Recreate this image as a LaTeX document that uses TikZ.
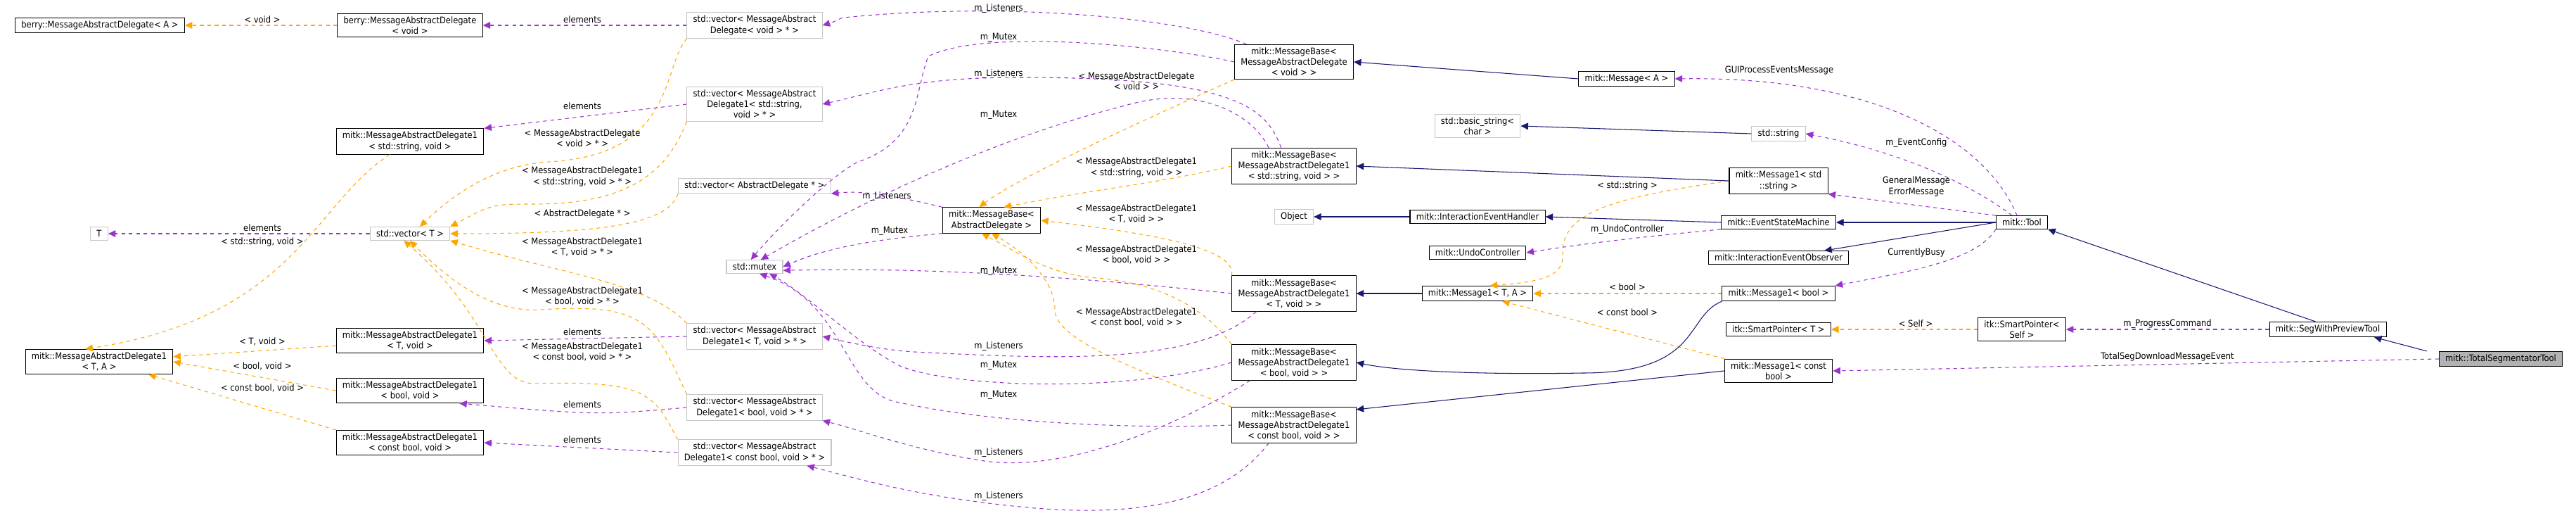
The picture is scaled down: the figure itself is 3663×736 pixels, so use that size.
\documentclass[tikz,border=0pt]{standalone}
\usepackage{fontspec}
\setmainfont{DejaVu Sans Condensed}
\usetikzlibrary{arrows.meta}
\definecolor{inhc}{HTML}{191970}
\definecolor{usec}{HTML}{9A32CD}
\definecolor{tplc}{HTML}{FFA500}
\begin{document}
\begin{tikzpicture}[x=0.02cm,y=-0.02cm,
  every node/.style={font=\fontsize{7.3}{8.6}\selectfont},
  box/.style={draw=black,fill=white,align=center,inner xsep=5pt,inner ysep=2.5pt,line width=0.6pt},
  gbox/.style={box,draw=gray!45},
  lbl/.style={align=center,inner sep=1pt,text=black},
  arr/.style={-{Triangle[length=6pt,width=5.5pt]},line width=0.6pt},
  inh/.style={arr,draw=inhc},
  use/.style={arr,draw=usec,dash pattern=on 3pt off 3pt},
  tpl/.style={arr,draw=tplc,dash pattern=on 3pt off 3pt}]
\useasboundingbox (0,0) rectangle (3663,736);
% nodes
\node[box] (bA) at (142,36) {berry::MessageAbstractDelegate< A >};
\node[box] (bV) at (583,36) {berry::MessageAbstractDelegate\\< void >};
\node[gbox] (vV) at (1073,36) {std::vector< MessageAbstract\\Delegate< void > * >};
\node[gbox] (vS) at (1073,148) {std::vector< MessageAbstract\\Delegate1< std::string,\\ void > * >};
\node[box] (dS) at (583,201) {mitk::MessageAbstractDelegate1\\< std::string, void >};
\node[gbox] (vAD) at (1073,264) {std::vector< AbstractDelegate * >};
\node[gbox] (T) at (141,332) {T};
\node[gbox] (vT) at (583,332) {std::vector< T >};
\node[gbox] (mutex) at (1073,379) {std::mutex};
\node[box] (dTA) at (141,514) {mitk::MessageAbstractDelegate1\\< T, A >};
\node[gbox] (vTv) at (1073,478) {std::vector< MessageAbstract\\Delegate1< T, void > * >};
\node[box] (dT) at (583,484) {mitk::MessageAbstractDelegate1\\< T, void >};
\node[box] (dB) at (583,555) {mitk::MessageAbstractDelegate1\\< bool, void >};
\node[gbox] (vB) at (1073,579) {std::vector< MessageAbstract\\Delegate1< bool, void > * >};
\node[box] (dC) at (583,629) {mitk::MessageAbstractDelegate1\\< const bool, void >};
\node[gbox] (vC) at (1073,643) {std::vector< MessageAbstract\\Delegate1< const bool, void > * >};
\node[box] (mbV) at (1840,88) {mitk::MessageBase<\\ MessageAbstractDelegate\\< void > >};
\node[box] (msgA) at (2313,112) {mitk::Message< A >};
\node[gbox] (bstr) at (2101,179) {std::basic\_string<\\ char >};
\node[box] (mbS) at (1840,236) {mitk::MessageBase<\\ MessageAbstractDelegate1\\< std::string, void > >};
\node[box] (mbAD) at (1410,313) {mitk::MessageBase<\\ AbstractDelegate >};
\node[gbox] (obj) at (1840,308) {Object};
\node[box] (ieh) at (2101,308) {mitk::InteractionEventHandler};
\node[box] (undo) at (2101,359) {mitk::UndoController};
\node[box] (mbT) at (1840,417) {mitk::MessageBase<\\ MessageAbstractDelegate1\\< T, void > >};
\node[box] (m1TA) at (2101,417) {mitk::Message1< T, A >};
\node[box] (mbB) at (1840,515) {mitk::MessageBase<\\ MessageAbstractDelegate1\\< bool, void > >};
\node[box] (mbC) at (1840,604) {mitk::MessageBase<\\ MessageAbstractDelegate1\\< const bool, void > >};
\node[gbox] (str) at (2529,190) {std::string};
\node[box] (m1S) at (2529,257) {mitk::Message1< std\\::string >};
\node[box] (esm) at (2529,316) {mitk::EventStateMachine};
\node[box] (ieo) at (2529,366) {mitk::InteractionEventObserver};
\node[box] (m1B) at (2529,417) {mitk::Message1< bool >};
\node[box] (spT) at (2529,468) {itk::SmartPointer< T >};
\node[box] (m1C) at (2529,527) {mitk::Message1< const\\ bool >};
\node[box] (spS) at (2875,468) {itk::SmartPointer<\\ Self >};
\node[box] (tool) at (2875,316) {mitk::Tool};
\node[box] (swp) at (3310,468) {mitk::SegWithPreviewTool};
\node[box,fill=gray!60] (tst) at (3556,510) {mitk::TotalSegmentatorTool};
% template edges
\draw[tpl] (bV) -- (bA) node[lbl] at (373,28) {< void >};
\draw[tpl] (dS) .. controls (445,290) and (420,450) .. ([xshift=-2.5cm]dTA.north east);
\node[lbl] at (373,344) {< std::string, void >};
\draw[tpl] (dT) -- (dTA) node[lbl] at (373,485) {< T, void >};
\draw[tpl] (dB.west) -- (dTA.east) node[lbl] at (373,520) {< bool, void >};
\draw[tpl] (dC.north west) -- ([xshift=-20pt]dTA.south east) node[lbl] at (373,551) {< const bool, void >};
\draw[tpl] (vV.south west) .. controls (940,100) and (960,220) .. (780,230) .. controls (700,235) and (640,280) .. ([xshift=8pt]vT.north);
\node[lbl] at (828,196) {< MessageAbstractDelegate\\< void > * >};
\draw[tpl] (vS.south west) .. controls (950,240) and (900,290) .. (760,290) .. controls (700,290) .. (vT.north east);
\node[lbl] at (828,251) {< MessageAbstractDelegate1\\< std::string, void > * >};
\draw[tpl] (vAD.south west) .. controls (950,320) and (850,332) .. (vT.east);
\node[lbl] at (828,304) {< AbstractDelegate * >};
\draw[tpl] (vTv.north west) .. controls (920,400) and (800,390) .. (vT.south east);
\node[lbl] at (828,351) {< MessageAbstractDelegate1\\< T, void > * >};
\draw[tpl] (vB.north west) .. controls (930,460) and (920,430) .. (770,440) .. controls (700,445) and (640,400) .. (vT.south);
\node[lbl] at (828,421) {< MessageAbstractDelegate1\\< bool, void > * >};
\draw[tpl] (vC.north west) .. controls (930,560) and (920,540) .. (760,545) .. controls (700,545) and (700,450) .. ([xshift=-5pt]vT.south);
\node[lbl] at (828,500) {< MessageAbstractDelegate1\\< const bool, void > * >};
\draw[tpl] (mbV.south west) .. controls (1650,160) and (1450,250) .. ([xshift=-10pt]mbAD.north);
\node[lbl] at (1616,115) {< MessageAbstractDelegate\\< void > >};
\draw[tpl] (mbS.west) .. controls (1650,260) and (1550,270) .. ([xshift=10pt]mbAD.north);
\node[lbl] at (1616,238) {< MessageAbstractDelegate1\\< std::string, void > >};
\draw[tpl] (mbT.north west) .. controls (1760,350) and (1620,330) .. (mbAD.east);
\node[lbl] at (1616,304) {< MessageAbstractDelegate1\\< T, void > >};
\draw[tpl] (mbB.north west) .. controls (1700,420) and (1620,400) .. (1560,395) .. controls (1490,390) and (1450,360) .. ([xshift=-8pt]mbAD.south);
\node[lbl] at (1616,362) {< MessageAbstractDelegate1\\< bool, void > >};
\draw[tpl] (mbC.north west) .. controls (1600,520) and (1500,480) .. (1500,440) .. controls (1500,400) and (1460,360) .. (mbAD.south);
\node[lbl] at (1616,451) {< MessageAbstractDelegate1\\< const bool, void > >};
\draw[tpl] (m1S.west) .. controls (2300,280) and (2220,300) .. (2222,360) .. controls (2224,390) and (2200,400) .. ([xshift=10pt]m1TA.north);
\node[lbl] at (2314,264) {< std::string >};
\draw[tpl] (m1B) -- (m1TA) node[lbl] at (2314,408) {< bool >};
\draw[tpl] (m1C.north west) -- ([xshift=20pt]m1TA.south) node[lbl] at (2314,444) {< const bool >};
\draw[tpl] (spS) -- (spT) node[lbl] at (2724,460) {< Self >};
% usage edges
\draw[use] (vV) -- (bV) node[lbl] at (828,28) {elements};
\draw[use] (vS.west) -- (dS.north east) node[lbl] at (828,151) {elements};
\draw[use] (vT) -- (T) node[lbl] at (373,324) {elements};
\draw[use] (vTv.west) -- (dT.east) node[lbl] at (828,472) {elements};
\draw[use] (vB.west) .. controls (850,590) .. ([xshift=-20pt]dB.south east);
\node[lbl] at (828,575) {elements};
\draw[use] (vC.west) -- (dC.east) node[lbl] at (828,625) {elements};
\draw[use] (mbAD.north west) .. controls (1280,280) and (1230,270) .. (vAD.south east);
\node[lbl] at (1261,279) {m\_Listeners};
\draw[use] (mbAD.south west) .. controls (1250,340) and (1180,350) .. (mutex.east);
\node[lbl] at (1265,328) {m\_Mutex};
\draw[use] ([xshift=10pt]mbV.north west) .. controls (1700,30) and (1450,0) .. (1200,25) .. controls (1195,25) and (1190,30) .. (vV.east);
\node[lbl] at (1420,12) {m\_Listeners};
\draw[use] (mbV.west) .. controls (1650,65) and (1400,40) .. (1320,80) .. controls (1300,130) and (1310,200) .. (1220,230) .. controls (1180,250) and (1100,330) .. ([xshift=-3pt]mutex.north);
\node[lbl] at (1420,53) {m\_Mutex};
\draw[use] ([xshift=40pt]mbS.north west) .. controls (1800,150) and (1750,110) .. (1450,110) .. controls (1300,110) and (1250,130) .. (vS.east);
\node[lbl] at (1420,105) {m\_Listeners};
\draw[use] ([xshift=30pt]mbS.north west) .. controls (1780,160) and (1700,120) .. (1600,150) .. controls (1400,200) and (1200,300) .. ([xshift=5pt]mutex.north);
\node[lbl] at (1420,163) {m\_Mutex};
\draw[use] (mbT.west) .. controls (1500,390) and (1300,380) .. ([yshift=-3pt]mutex.east);
\node[lbl] at (1420,385) {m\_Mutex};
\draw[use] ([xshift=20pt]mbT.south west) .. controls (1700,520) and (1500,510) .. (1300,500) .. controls (1250,497) and (1200,485) .. (vTv.east);
\node[lbl] at (1420,492) {m\_Listeners};
\draw[use] (mbB.west) .. controls (1600,560) and (1350,550) .. (1280,520) .. controls (1220,490) and (1150,420) .. ([xshift=12pt]mutex.south);
\node[lbl] at (1420,519) {m\_Mutex};
\draw[use] ([xshift=15pt]mbB.south west) .. controls (1650,620) and (1500,670) .. (1400,655) .. controls (1300,640) and (1220,610) .. (vB.south east);
\node[lbl] at (1420,643) {m\_Listeners};
\draw[use] (mbC.west) .. controls (1600,610) and (1400,600) .. (1270,570) .. controls (1200,550) and (1200,430) .. ([xshift=4pt]mutex.south);
\node[lbl] at (1420,561) {m\_Mutex};
\draw[use] ([xshift=30pt]mbC.south west) .. controls (1750,700) and (1650,740) .. (1450,720) .. controls (1300,705) and (1220,680) .. ([xshift=-20pt]vC.south east);
\node[lbl] at (1420,705) {m\_Listeners};
\draw[use] ([xshift=-4pt]tool.north) .. controls (2820,190) and (2650,108) .. (msgA.east);
\node[lbl] at (2530,100) {GUIProcessEventsMessage};
\draw[use] ([xshift=-8pt]tool.north) .. controls (2800,260) and (2700,215) .. (str.east);
\node[lbl] at (2725,203) {m\_EventConfig};
\draw[use] (tool.north west) -- (m1S.south east) node[lbl] at (2725,265) {GeneralMessage\\ErrorMessage};
\draw[use] (tool.south west) .. controls (2810,370) and (2720,385) .. (m1B.north east);
\node[lbl] at (2725,359) {CurrentlyBusy};
\draw[use] (esm.south west) .. controls (2350,335) and (2260,345) .. (undo.east);
\node[lbl] at (2314,326) {m\_UndoController};
\draw[use] (swp) -- (spS) node[lbl] at (3082,460) {m\_ProgressCommand};
\draw[use] (tst.west) -- (m1C.east) node[lbl] at (3082,507) {TotalSegDownloadMessageEvent};
% inheritance edges
\draw[inh] (msgA.west) -- (mbV.east);
\draw[inh] (str.west) -- (bstr.east);
\draw[inh] (m1S.west) -- (mbS.east);
\draw[inh] (ieh) -- (obj);
\draw[inh] (esm.west) -- (ieh.east);
\draw[inh] (m1TA) -- (mbT);
\draw[inh] (m1B.south west) .. controls (2395,450) and (2420,530) .. (2250,530) .. controls (2150,532) and (2000,530) .. (mbB.east);
\draw[inh] (m1C.west) -- ([yshift=-2pt]mbC.north east);
\draw[inh] (tool) -- (esm);
\draw[inh] (tool.west) -- ([xshift=-20pt]ieo.north east);
\draw[inh] ([xshift=-10pt]swp.north) -- (tool.south east);
\draw[inh] ([xshift=-60pt]tst.north) -- ([xshift=-10pt]swp.south east);
\end{tikzpicture}
\end{document}
